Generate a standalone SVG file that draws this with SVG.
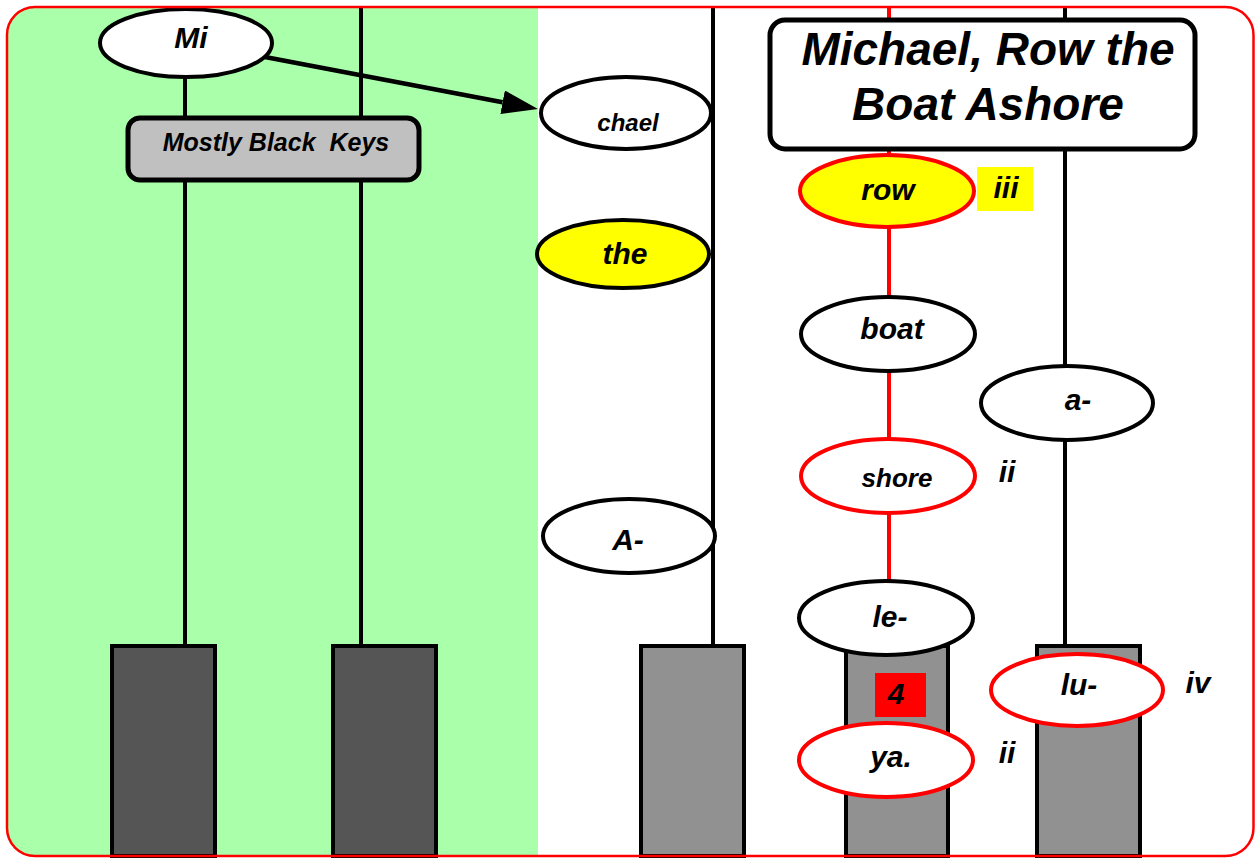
<svg xmlns="http://www.w3.org/2000/svg" width="1255" height="860" viewBox="0 0 1255 860">
<style>
.t{font-family:"Liberation Sans",Arial,sans-serif;font-weight:bold;font-style:italic;font-size:30px;fill:#000;text-anchor:middle}
.e{fill:#fff;stroke:#000;stroke-width:4}
.er{fill:#fff;stroke:#f00;stroke-width:4}
.ey{fill:#ff0;stroke:#000;stroke-width:4}
.ery{fill:#ff0;stroke:#f00;stroke-width:4}
.ln{stroke:#000;stroke-width:4;fill:none}
.lr{stroke:#f00;stroke-width:4;fill:none}
.kb{fill:#555;stroke:#000;stroke-width:4}
.kg{fill:#919191;stroke:#000;stroke-width:4}
</style>
<defs>
<marker id="ah" markerUnits="userSpaceOnUse" markerWidth="36" markerHeight="24" refX="0" refY="12" orient="auto">
<path d="M0,0 L36,12 L0,24 Z" fill="#000"/>
</marker>
</defs>
<rect x="0" y="0" width="1255" height="860" fill="#fff"/>
<path d="M538,7 H35 A28,28 0 0 0 7,35 V828 A28,28 0 0 0 35,856 H538 Z" fill="#aaffaa"/>
<g id="connectors">
<line class="ln" x1="185" y1="7" x2="185" y2="645"/>
<line class="ln" x1="361" y1="7" x2="361" y2="645"/>
<line class="ln" x1="713" y1="7" x2="713" y2="645"/>
<line class="lr" x1="889" y1="7" x2="889" y2="20"/>
<line class="lr" x1="889" y1="150" x2="889" y2="600"/>
<line class="ln" x1="1065" y1="7" x2="1065" y2="645"/>
<line x1="265" y1="57" x2="502.6" y2="102.2" stroke="#000" stroke-width="4.5" marker-end="url(#ah)"/>
</g>
<g id="keys">
<rect class="kb" x="112" y="646" width="103" height="210"/>
<rect class="kb" x="333" y="646" width="103" height="210"/>
<rect class="kg" x="641" y="646" width="103" height="210"/>
<rect class="kg" x="846" y="646" width="102" height="210"/>
<rect class="kg" x="1037" y="646" width="103" height="210"/>
</g>
<g id="node-mi"><ellipse class="e" cx="186" cy="43" rx="86" ry="34"/><text class="t" x="191" y="48">Mi</text></g>
<g id="node-mostly-black-keys"><rect x="128" y="118" width="291" height="62" rx="12" fill="#c0c0c0" stroke="#000" stroke-width="5"/><text class="t" x="276" y="151" style="font-size:25px" xml:space="preserve">Mostly Black  Keys</text></g>
<g id="node-chael"><ellipse class="e" cx="626" cy="113" rx="85" ry="36"/><text class="t" x="628" y="131" style="font-size:24px">chael</text></g>
<g id="node-the"><ellipse class="ey" cx="623" cy="254" rx="86" ry="34"/><text class="t" x="625" y="264">the</text></g>
<g id="node-a-upper"><ellipse class="e" cx="629" cy="536" rx="86" ry="37"/><text class="t" x="628" y="550">A-</text></g>
<g id="node-title"><rect x="770" y="20" width="425" height="129" rx="15" fill="#fff" stroke="#000" stroke-width="5"/><text class="t" x="988" y="65" style="font-size:46px">Michael, Row the</text><text class="t" x="988" y="120" style="font-size:46px">Boat Ashore</text></g>
<g id="node-row"><ellipse class="ery" cx="887" cy="191" rx="87" ry="36"/><text class="t" x="888" y="200">row</text></g>
<g id="label-iii"><rect x="977" y="167" width="56" height="44" fill="#ff0"/><text class="t" x="1006" y="198">iii</text></g>
<g id="node-boat"><ellipse class="e" cx="888" cy="334" rx="87" ry="37"/><text class="t" x="892" y="339">boat</text></g>
<g id="node-a-lower"><ellipse class="e" cx="1067" cy="403" rx="86" ry="37"/><text class="t" x="1078" y="410">a-</text></g>
<g id="node-shore"><ellipse class="er" cx="888" cy="476" rx="87" ry="37"/><text class="t" x="897" y="487" style="font-size:26px">shore</text></g>
<g id="label-ii-1"><text class="t" x="1007" y="482">ii</text></g>
<g id="node-le"><ellipse class="e" cx="886" cy="618" rx="87" ry="37"/><text class="t" x="890" y="627">le-</text></g>
<g id="label-4"><rect x="875" y="673" width="51" height="44" fill="#f00"/><text class="t" x="896" y="704">4</text></g>
<g id="node-ya"><ellipse class="er" cx="886" cy="760" rx="87" ry="37"/><text class="t" x="891" y="767">ya.</text></g>
<g id="label-ii-2"><text class="t" x="1007" y="763">ii</text></g>
<g id="node-lu"><ellipse class="er" cx="1077" cy="690" rx="86" ry="36"/><text class="t" x="1079" y="695">lu-</text></g>
<g id="label-iv"><text class="t" x="1198" y="693">iv</text></g>
<rect x="7" y="7" width="1246.5" height="849" rx="28" fill="none" stroke="#f00" stroke-width="2.5"/>
</svg>
